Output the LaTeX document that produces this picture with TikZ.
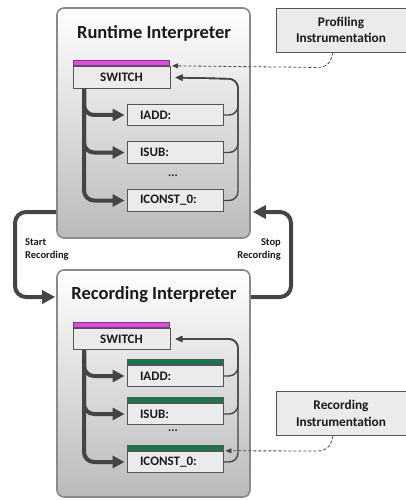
\documentclass[tikz,border=0pt]{standalone}
\usepackage{fontspec}
\setmainfont{Carlito}
\usetikzlibrary{arrows.meta}
\definecolor{frame}{HTML}{8A8A8A}
\definecolor{ink}{HTML}{444444}
\definecolor{boxfill}{HTML}{EBEBEB}
\definecolor{boxline}{HTML}{555555}
\definecolor{swbar}{HTML}{F53CF5}
\definecolor{opbar}{HTML}{0E7A4E}
\definecolor{label}{HTML}{1A1A1A}
% handler names sit left-aligned in a fixed-width slot
\newcommand{\opname}[1]{\makebox[70pt][l]{#1}}
\tikzset{
  interp/.style={draw=frame, line width=1.6pt, rounded corners=7pt,
    top color=white, bottom color=black!27, minimum width=193pt, inner sep=0pt},
  title/.style={font=\bfseries\fontsize{18.5}{20}\selectfont, text=label},
  opbox/.style={draw=boxline, fill=boxfill, line width=0.9pt, minimum width=96pt,
    minimum height=21.5pt, inner sep=0pt, font=\bfseries\fontsize{13}{14}\selectfont,
    text=label},
  optext/.style={opbox},
  swtext/.style={opbox, minimum width=97pt, align=center},
  bar/.style={draw=boxline, line width=0.9pt, minimum width=96pt, minimum height=5pt,
    inner sep=0pt, anchor=south},
  instr/.style={draw=boxline, fill=boxfill, line width=0.9pt, minimum width=130pt,
    minimum height=44pt, inner sep=0pt, align=center,
    font=\bfseries\fontsize{13.3}{16.5}\selectfont, text=label},
  flow/.style={draw=ink, line width=4pt, rounded corners=10pt,
    -{Triangle[length=12pt,width=12pt]}},
  back/.style={draw=ink, line width=1.4pt, rounded corners=9pt,
    -{Triangle[length=7pt,width=6pt]}},
  probe/.style={draw=ink, line width=0.8pt, dash pattern=on 3pt off 2pt,
    -{Triangle[length=6pt,width=5pt]}},
  mode/.style={draw=ink, line width=4pt, rounded corners=11pt,
    -{Triangle[length=13pt,width=13pt]}},
  small/.style={font=\bfseries\fontsize{10.5}{13}\selectfont, text=label, inner sep=0pt}
}
\begin{document}
\begin{tikzpicture}[x=1pt,y=-1pt]
\useasboundingbox (0,0) rectangle (406,500);

% the two interpreter frames
\node[interp, minimum height=230pt] (rt) at (153.5,123) {};
\node[interp, minimum height=227pt] (rec) at (153.5,383.5) {};
\node[title] (rttitle) at (154,33) {Runtime Interpreter};
\node[title] (rectitle) at (154,295) {Recording Interpreter};

% runtime interpreter: dispatch and handlers
\node[swtext] (sw1) at (121.5,77.5) {SWITCH};
\node[bar, fill=swbar] (sw1bar) at (sw1.north) {};
\node[optext] (a1) at (175,115) {\opname{IADD:}};
\node[optext] (s1) at (175,152.5) {\opname{ISUB:}};
\node[font=\bfseries\fontsize{12}{14}\selectfont, text=label] (d1) at (173,176) {...};
\node[optext] (c1) at (175,200.5) {\opname{ICONST\_0:}};

% recording interpreter: dispatch and instrumented handlers
\node[swtext] (sw2) at (121.5,339) {SWITCH};
\node[bar, fill=swbar] (sw2bar) at (sw2.north) {};
\node[optext] (a2) at (175,376) {\opname{IADD:}};
\node[bar, fill=opbar] (a2bar) at (a2.north) {};
\node[optext] (s2) at (175,414) {\opname{ISUB:}};
\node[bar, fill=opbar] (s2bar) at (s2.north) {};
\node[font=\bfseries\fontsize{12}{14}\selectfont, text=label] (d2) at (173,431) {...};
\node[optext] (c2) at (175,462) {\opname{ICONST\_0:}};
\node[bar, fill=opbar] (c2bar) at (c2.north) {};

% instrumentation boxes
\node[instr] (prof) at (341,30) {Profiling\\Instrumentation};
\node[instr] (rinstr) at (341,413.5) {Recording\\Instrumentation};

% dispatch edges
\coordinate (t1) at ([xshift=-37.5pt]sw1.south);
\coordinate (t2) at ([xshift=-37.5pt]sw2.south);
\draw[flow] (t1) |- ([xshift=-2pt]a1.west);
\draw[flow] (t1) |- ([xshift=-2pt]s1.west);
\draw[flow] (t1) |- ([xshift=-2pt]c1.west);
\draw[flow] (t2) |- ([xshift=-2pt]a2.west);
\draw[flow] (t2) |- ([xshift=-2pt]s2.west);
\draw[flow] (t2) |- ([xshift=-2pt]c2.west);

% return edges to the dispatcher
\coordinate (r1) at (238,79);
\coordinate (r2) at (238,339);
\draw[back] (a1.east) -| (r1) -- ([xshift=5pt]sw1.east);
\draw[back] (s1.east) -| (r1) -- ([xshift=5pt]sw1.east);
\draw[back] (c1.east) -| (r1) -- ([xshift=5pt]sw1.east);
\draw[back] (a2.east) -| (r2) -- ([xshift=5pt]sw2.east);
\draw[back] (s2.east) -| (r2) -- ([xshift=5pt]sw2.east);
\draw[back] (c2.east) -| (r2) -- ([xshift=5pt]sw2.east);

% instrumentation hooks (a positive yshift points up here)
\draw[probe] ([xshift=-8pt]prof.south) .. controls ([xshift=-10pt,yshift=-9pt]prof.south)
  and ([xshift=-13pt,yshift=-15pt]prof.south) .. ([xshift=-24pt,yshift=-15pt]prof.south)
  -- ([xshift=2pt,yshift=0.5pt]sw1bar.south east);
\draw[probe] ([xshift=-8pt]rinstr.south) .. controls ([xshift=-10pt,yshift=-9pt]rinstr.south)
  and ([xshift=-13pt,yshift=-15pt]rinstr.south) .. ([xshift=-24pt,yshift=-15pt]rinstr.south)
  -- ([xshift=2pt]c2bar.south east);

% switching between the interpreters
\coordinate (lx) at (15,250);
\coordinate (rx) at (291,250);
\draw[mode] ([yshift=-89pt]rt.west) -| (lx) |- ([xshift=-1pt,yshift=86.5pt]rec.west);
\draw[mode] ([yshift=86.5pt]rec.east) -| (rx) |- ([xshift=2pt,yshift=-89pt]rt.east);
\node[small, align=left, anchor=west] (start) at (25,249.5) {Start\\Recording};
\node[small, align=right, anchor=east] (stop) at (281,249.5) {Stop\\Recording};
\end{tikzpicture}
\end{document}
